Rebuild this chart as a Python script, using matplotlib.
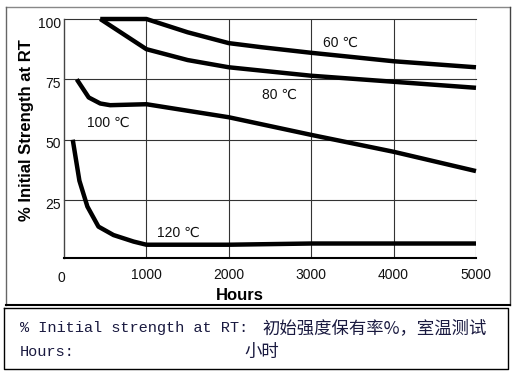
import matplotlib
matplotlib.use("Agg")
import matplotlib.pyplot as plt
from matplotlib.lines import Line2D
from matplotlib.transforms import ScaledTranslation

# ---- data ----
hours_60 = [440, 1000, 1500, 2000, 2400, 3000, 4000, 5000]
strength_60 = [100, 100, 94.5, 90, 88.3, 86, 82.5, 80]

hours_80 = [440, 1000, 1500, 2000, 3000, 4000, 5000]
strength_80 = [100, 87.5, 83, 80, 76.5, 74, 71.5]

hours_100 = [155, 300, 440, 560, 1000, 2000, 3000, 4000, 5000]
strength_100 = [75, 67.5, 65, 64.3, 64.7, 59.3, 52, 45, 37]

hours_120 = [106, 187, 284, 418, 601, 845, 1000, 2000, 3000, 5000]
strength_120 = [50, 33, 22.3, 14, 10.5, 7.8, 6.5, 6.5, 7, 7]

x_ticks = [1000, 2000, 3000, 4000, 5000]
y_ticks = [25, 50, 75, 100]
series_labels = ["60 ℃", "80 ℃", "100 ℃", "120 ℃"]
label_pos = [(3143, 90), (2403, 68.5), (280, 57), (1130, 11.3)]

W, H = 514, 379
fig = plt.figure(figsize=(W / 100, H / 100), dpi=100)
fig.patch.set_facecolor("white")


def fx(x):
    return x / W


def fy(y):
    return 1 - y / H


# axes placement in pixels
L, R, T, B = 64, 476, 19, 258
ax = fig.add_axes([fx(L), fy(B), fx(R) - fx(L), fy(T) - fy(B)])
ax.set_xlim(0, 5000)
ax.set_ylim(1, 100)

for x in x_ticks:
    ax.axvline(x, color="#333333", lw=0.8, zorder=1)
for y in y_ticks:
    ax.axhline(y, color="#333333", lw=0.8, zorder=1, clip_on=False)

for hx, sy in [(hours_60, strength_60), (hours_80, strength_80),
               (hours_100, strength_100), (hours_120, strength_120)]:
    ax.plot(hx, sy, color="black", lw=3.2, solid_capstyle="butt",
            solid_joinstyle="round", clip_on=False, zorder=3)

fam = ["Liberation Sans", "DejaVu Sans"]
for lab, (lx, ly) in zip(series_labels, label_pos):
    ax.text(lx, ly, lab, fontsize=10, family=fam, ha="left", va="center",
            color="#111111", zorder=4)

ax.set_xticks(x_ticks)
ax.set_xticklabels([str(v) for v in x_ticks], family="Liberation Sans",
                   fontsize=10)
ax.set_yticks(y_ticks)
ax.set_yticklabels([str(v) for v in y_ticks], family="Liberation Sans",
                   fontsize=10)
ax.tick_params(axis="both", length=0, colors="#111111")
ax.tick_params(axis="x", pad=7)
ax.tick_params(axis="y", pad=2)
off = ScaledTranslation(0, -3 / 100, fig.dpi_scale_trans)
for lbl in ax.get_yticklabels():
    lbl.set_transform(lbl.get_transform() + off)

for s in ["top", "right"]:
    ax.spines[s].set_visible(False)
ax.spines["left"].set_color("#444444")
ax.spines["left"].set_linewidth(1.0)
ax.spines["bottom"].set_color("black")
ax.spines["bottom"].set_linewidth(1.5)

# "0" corner label
fig.text(fx(61), fy(278), "0", fontsize=10, family="Liberation Sans",
         ha="center", va="center", color="#111111")

# axis titles
fig.text(fx(240), fy(295), "Hours", fontsize=12, fontweight="bold",
         family="Liberation Sans", ha="center", va="center")
fig.text(fx(27), fy(130), "% Initial Strength at RT", fontsize=12,
         fontweight="bold", family="Liberation Sans", rotation=90,
         ha="center", va="center")

# outer chart frame
fig.add_artist(Line2D([fx(6), fx(510)], [fy(7), fy(7)], color="#888888", lw=1))
fig.add_artist(Line2D([fx(6), fx(6)], [fy(7), fy(305)], color="#666666", lw=1))
fig.add_artist(Line2D([fx(510), fx(510)], [fy(7), fy(305)], color="#444444", lw=1))
fig.add_artist(Line2D([fx(6), fx(510)], [fy(305), fy(305)], color="black", lw=1.5))

# caption box
fig.add_artist(Line2D([fx(4), fx(508), fx(508), fx(4), fx(4)],
                      [fy(308), fy(308), fy(369), fy(369), fy(308)],
                      color="black", lw=1))

mono = ["Liberation Mono", "Noto Sans CJK SC"]
cjk = ["Noto Sans CJK SC", "DejaVu Sans"]
fig.text(fx(20), fy(328), "% Initial strength at RT:", fontsize=11,
         family=mono, ha="left", va="center", color="#1a1a40")
fig.text(fx(262), fy(328), "初始强度保有率%，室温测试", fontsize=12.5,
         family=cjk, ha="left", va="center", color="#1a1a40")
fig.text(fx(20), fy(352), "Hours:", fontsize=11,
         family=mono, ha="left", va="center", color="#1a1a40")
fig.text(fx(244), fy(352), "小时", fontsize=12.5,
         family=cjk, ha="left", va="center", color="#1a1a40")

fig.savefig("out.png", dpi=100)
